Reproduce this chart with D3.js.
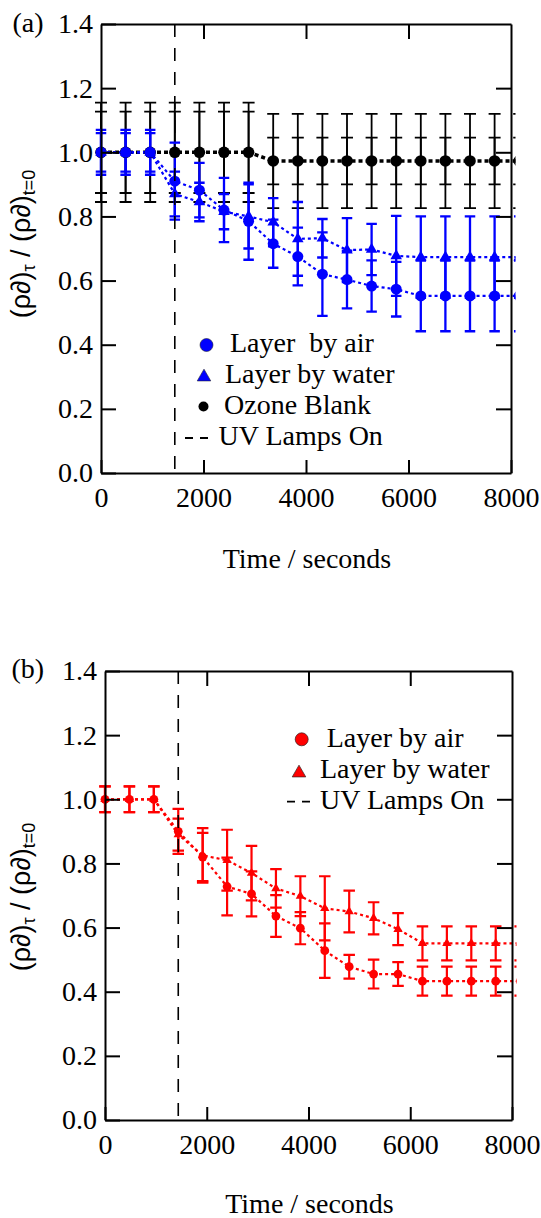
<!DOCTYPE html>
<html>
<head>
<meta charset="utf-8">
<script src="https://cdn.jsdelivr.net/npm/d3@7"></script>
<style>
  body { margin: 0; background: #fff; }
  svg { display: block; }
</style>
</head>
<body>
<svg id="chart" width="541" height="1218"></svg>
<script>
// Sampling times (s); the last sample sits just past the 8000 s axis limit
const times = [0, 480, 960, 1440, 1920, 2400, 2880, 3360, 3840, 4320, 4800, 5280, 5760, 6240, 6720, 7200, 7680, 8160];
const lampsOn = 1440;

const xTicks = [0, 2000, 4000, 6000, 8000];
const xTickLabels = ["0", "2000", "4000", "6000", "8000"];
const yTicks = [0, 0.2, 0.4, 0.6, 0.8, 1.0, 1.2, 1.4];
const yTickLabels = ["0.0", "0.2", "0.4", "0.6", "0.8", "1.0", "1.2", "1.4"];

// (a) ozone blank
const ozoneBlank     = [1.0, 1.0, 1.0, 1.0, 1.0, 1.0, 1.0, 0.973, 0.973, 0.973, 0.973, 0.973, 0.973, 0.973, 0.973, 0.973, 0.973, 0.973];
const ozoneErrOuter  = [0.155, 0.155, 0.155, 0.155, 0.155, 0.155, 0.155, 0.147, 0.147, 0.147, 0.147, 0.147, 0.147, 0.147, 0.147, 0.147, 0.147, 0.147];
const ozoneErrInner  = [0.127, 0.127, 0.127, 0.127, 0.127, 0.127, 0.127, 0.073, 0.073, 0.073, 0.073, 0.073, 0.073, 0.073, 0.073, 0.073, 0.073, 0.073];

// (a) layers, blue
const airA      = [1.0, 1.0, 1.0, 0.91, 0.882, 0.82, 0.785, 0.715, 0.675, 0.62, 0.603, 0.583, 0.573, 0.552, 0.552, 0.552, 0.552, 0.552];
const airAErr   = [0.07, 0.07, 0.07, 0.12, 0.085, 0.10, 0.12, 0.075, 0.09, 0.13, 0.09, 0.08, 0.085, 0.11, 0.11, 0.11, 0.11, 0.11];
const waterA    = [1.0, 1.0, 1.0, 0.87, 0.845, 0.815, 0.80, 0.782, 0.73, 0.732, 0.695, 0.697, 0.677, 0.673, 0.673, 0.673, 0.673, 0.673];
const waterAErr = [0.06, 0.06, 0.06, 0.07, 0.06, 0.055, 0.10, 0.075, 0.115, 0.06, 0.10, 0.08, 0.125, 0.127, 0.127, 0.127, 0.127, 0.127];

// (b) layers, red
const airB      = [1.0, 1.0, 1.0, 0.90, 0.82, 0.728, 0.705, 0.636, 0.598, 0.528, 0.478, 0.455, 0.455, 0.433, 0.433, 0.433, 0.433, 0.433];
const airBErr   = [0.04, 0.04, 0.04, 0.07, 0.075, 0.09, 0.07, 0.065, 0.05, 0.085, 0.037, 0.045, 0.037, 0.045, 0.045, 0.045, 0.045, 0.045];
const waterB    = [1.0, 1.0, 1.0, 0.89, 0.825, 0.81, 0.77, 0.722, 0.698, 0.66, 0.65, 0.629, 0.595, 0.551, 0.551, 0.551, 0.551, 0.551];
const waterBErr = [0.04, 0.04, 0.04, 0.05, 0.085, 0.095, 0.085, 0.06, 0.062, 0.10, 0.065, 0.05, 0.05, 0.053, 0.053, 0.053, 0.053, 0.053];

const SERIF = "'Liberation Serif', 'Times New Roman', serif";
const SANS = "'Liberation Sans', Arial, sans-serif";

const svg = d3.select("#chart");

function series(vals, errs) {
  return times.map((t, i) => ({ t, v: vals[i], e: errs ? errs[i] : 0 }));
}

function drawErrorBars(g, x, y, data, color, capW, sw) {
  const h = capW / 2;
  g.append("g")
    .attr("stroke", color).attr("stroke-width", sw).attr("fill", "none")
    .selectAll("path").data(data).join("path")
    .attr("d", d => {
      const cx = x(d.t), y1 = y(d.v + d.e), y2 = y(d.v - d.e);
      return `M${cx},${y1}V${y2}M${cx - h},${y1}H${cx + h}M${cx - h},${y2}H${cx + h}`;
    });
}

function drawLine(g, x, y, data, color, sw, dash) {
  g.append("path").datum(data)
    .attr("fill", "none").attr("stroke", color)
    .attr("stroke-width", sw).attr("stroke-dasharray", dash)
    .attr("d", d3.line().x(d => x(d.t)).y(d => y(d.v)));
}

function drawCircles(g, x, y, data, color, r) {
  g.append("g").attr("fill", color)
    .selectAll("circle").data(data).join("circle")
    .attr("cx", d => x(d.t)).attr("cy", d => y(d.v)).attr("r", r);
}

function drawTriangles(g, x, y, data, color, size) {
  const sym = d3.symbol().type(d3.symbolTriangle).size(size);
  g.append("g").attr("fill", color)
    .selectAll("path").data(data).join("path")
    .attr("transform", d => `translate(${x(d.t)},${y(d.v)})`)
    .attr("d", sym);
}

function drawFrame(g, x, y, o) {
  const styleAxis = sel => {
    sel.attr("font-family", null).attr("font-size", null)
      .style("font-family", SERIF).style("font-size", "28px");
    sel.selectAll(".domain").attr("stroke", "#000").attr("stroke-width", 2);
    sel.selectAll(".tick line").attr("stroke", "#000").attr("stroke-width", 2);
    sel.selectAll(".tick text").attr("fill", "#000");
  };
  g.append("g").attr("transform", `translate(0,${o.bottom})`)
    .call(d3.axisBottom(x).tickValues(xTicks).tickFormat((d, i) => xTickLabels[i])
      .tickSizeInner(-13).tickSizeOuter(0).tickPadding(14.5))
    .call(styleAxis);
  g.append("g").attr("transform", `translate(0,${o.top})`)
    .call(d3.axisTop(x).tickValues(xTicks.slice(1, -1)).tickFormat("")
      .tickSizeInner(-15).tickSizeOuter(0))
    .call(styleAxis);
  g.append("g").attr("transform", `translate(${o.left},0)`)
    .call(d3.axisLeft(y).tickValues(yTicks).tickFormat((d, i) => yTickLabels[i])
      .tickSizeInner(-15).tickSizeOuter(0).tickPadding(8))
    .call(styleAxis);
  g.append("g").attr("transform", `translate(${o.right},0)`)
    .call(d3.axisRight(y).tickValues(yTicks.slice(1, -1)).tickFormat("")
      .tickSizeInner(-15).tickSizeOuter(0))
    .call(styleAxis);
}

function drawLabels(g, o) {
  g.append("text").attr("x", o.tagX).attr("y", o.tagY)
    .style("font-family", SERIF).style("font-size", "28px").attr("fill", "#000")
    .text(o.tag);

  g.append("text")
    .attr("x", (o.left + o.right) / 2 + 1).attr("y", o.xLabelY)
    .attr("text-anchor", "middle")
    .style("font-family", SERIF).style("font-size", "28px").attr("fill", "#000")
    .text("Time / seconds");

  const yl = g.append("text")
    .attr("transform", `translate(30,${o.yLabelC}) rotate(-90)`)
    .attr("text-anchor", "middle")
    .style("font-family", SANS).style("font-size", "27px").attr("fill", "#000");
  yl.append("tspan").text("(ρ∂)");
  yl.append("tspan").style("font-size", "18px").attr("dy", 5).text("τ");
  yl.append("tspan").attr("dy", -5).text(" / (ρ∂)");
  yl.append("tspan").style("font-size", "18px").attr("dy", 5).text("t=0");
}

function drawLamp(g, x, o) {
  g.append("line")
    .attr("x1", x(lampsOn)).attr("x2", x(lampsOn))
    .attr("y1", o.top).attr("y2", o.bottom)
    .attr("stroke", "#000").attr("stroke-width", 1.6)
    .attr("stroke-dasharray", "13,11");
}

function legendText(g, tx, ty, label) {
  g.append("text").attr("x", tx).attr("y", ty)
    .style("font-family", SERIF).style("font-size", "28px").attr("fill", "#000")
    .style("white-space", "pre")
    .text(label);
}

function makePanel(o) {
  const x = d3.scaleLinear().domain([0, 8000]).range([o.left, o.right]);
  const y = d3.scaleLinear().domain([0, 1.4]).range([o.bottom, o.top]);
  const g = svg.append("g");
  const clipId = "clip-" + o.tag.replace(/[()]/g, "");
  g.append("clipPath").attr("id", clipId)
    .append("rect").attr("x", 0).attr("y", 0)
    .attr("width", o.right + 4.5).attr("height", 1218);
  const data = g.append("g").attr("clip-path", `url(#${clipId})`);
  return { x, y, g, data };
}

// ---------- Panel (a) ----------
const A = { left: 101, right: 511, top: 24, bottom: 473, tag: "(a)", tagX: 12.5, tagY: 32, xLabelY: 568, yLabelC: 244 };
{
  const { x, y, g, data } = makePanel(A);
  const ozO = series(ozoneBlank, ozoneErrOuter);
  const ozI = series(ozoneBlank, ozoneErrInner);
  const air = series(airA, airAErr);
  const water = series(waterA, waterAErr);

  drawErrorBars(data, x, y, ozO, "#000", 12, 1.8);
  drawErrorBars(data, x, y, ozI, "#000", 12, 1.8);
  drawLine(data, x, y, ozO, "#000", 3.5, "4,3");
  drawErrorBars(data, x, y, water, "#0000ff", 10.5, 2.3);
  drawErrorBars(data, x, y, air, "#0000ff", 10.5, 2.3);
  drawLine(data, x, y, water, "#0000ff", 2.2, "3,3");
  drawLine(data, x, y, air, "#0000ff", 2.2, "3,3");
  drawLamp(g, x, A);
  drawCircles(data, x, y, ozO, "#000", 5.8);
  drawTriangles(data, x, y, water, "#0000ff", 58);
  drawCircles(data, x, y, air, "#0000ff", 5.5);

  drawFrame(g, x, y, A);
  drawLabels(g, A);

  // legend
  const lg = g.append("g");
  lg.append("circle").attr("cx", 206.5).attr("cy", 345).attr("r", 6.5)
    .attr("fill", "#0000ff").attr("stroke", "#223").attr("stroke-width", 0.6);
  legendText(lg, 230, 352, "Layer  by air");
  lg.append("path").attr("transform", "translate(204,377)")
    .attr("d", d3.symbol().type(d3.symbolTriangle).size(80))
    .attr("fill", "#0000ff").attr("stroke", "#223").attr("stroke-width", 0.6);
  legendText(lg, 225, 383, "Layer by water");
  lg.append("circle").attr("cx", 203.5).attr("cy", 406.5).attr("r", 5)
    .attr("fill", "#000");
  legendText(lg, 224, 414, "Ozone Blank");
  lg.append("line").attr("x1", 185).attr("x2", 208).attr("y1", 438).attr("y2", 438)
    .attr("stroke", "#000").attr("stroke-width", 1.8).attr("stroke-dasharray", "8,7");
  legendText(lg, 218.5, 445, "UV Lamps On");
}

// ---------- Panel (b) ----------
const B = { left: 105, right: 512, top: 671, bottom: 1120, tag: "(b)", tagX: 11.5, tagY: 678, xLabelY: 1213, yLabelC: 897 };
{
  const { x, y, g, data } = makePanel(B);
  const air = series(airB, airBErr);
  const water = series(waterB, waterBErr);

  drawErrorBars(data, x, y, water, "#ff0000", 11.5, 2.2);
  drawErrorBars(data, x, y, air, "#ff0000", 11.5, 2.2);
  drawLine(data, x, y, water, "#ff0000", 2.2, "3,3");
  drawLine(data, x, y, air, "#ff0000", 2.2, "3,3");
  drawLamp(g, x, B);
  drawTriangles(data, x, y, water, "#ff0000", 38);
  drawCircles(data, x, y, air, "#ff0000", 4.4);

  drawFrame(g, x, y, B);
  drawLabels(g, B);

  const lg = g.append("g");
  lg.append("circle").attr("cx", 301.7).attr("cy", 739.3).attr("r", 6.5)
    .attr("fill", "#ff0000").attr("stroke", "#322").attr("stroke-width", 0.7);
  legendText(lg, 326.7, 746.7, "Layer by air");
  lg.append("path").attr("transform", "translate(299,773)")
    .attr("d", d3.symbol().type(d3.symbolTriangle).size(80))
    .attr("fill", "#ff0000").attr("stroke", "#322").attr("stroke-width", 0.7);
  legendText(lg, 320, 778, "Layer by water");
  lg.append("line").attr("x1", 287).attr("x2", 310).attr("y1", 801.7).attr("y2", 801.7)
    .attr("stroke", "#000").attr("stroke-width", 1.8).attr("stroke-dasharray", "8,7");
  legendText(lg, 320, 809, "UV Lamps On");
}
</script>
</body>
</html>
